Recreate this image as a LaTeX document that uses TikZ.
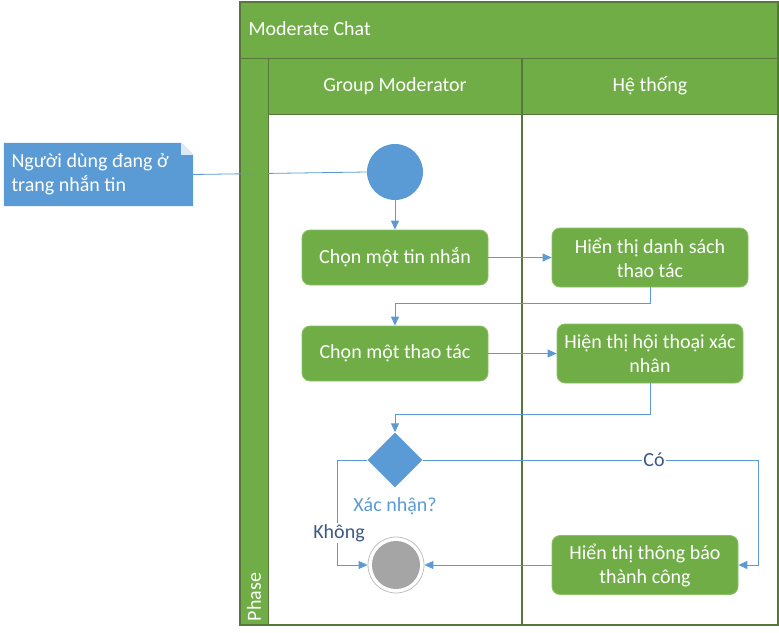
\documentclass[tikz,border=0pt]{standalone}
\usepackage{fontspec}
\setmainfont{Carlito}
\usetikzlibrary{arrows.meta,shapes.geometric}
\definecolor{lanegreen}{HTML}{70AD47}
\definecolor{boxedge}{HTML}{8CC168}
\definecolor{frameline}{HTML}{56763A}
\definecolor{flowblue}{HTML}{5B9BD5}
\definecolor{labelblue}{HTML}{3B5886}
\definecolor{endgray}{HTML}{A5A5A5}
\tikzset{
  txt/.style={font=\fontsize{20}{24}\selectfont},
  act/.style={txt, draw=boxedge, line width=0.8pt, fill=lanegreen, rounded corners=8pt, text=white, align=center, inner sep=2pt},
  flow/.style={draw=flowblue, line width=0.9pt, -{Triangle[length=9pt,width=8pt]}},
  guard/.style={txt, text=labelblue, fill=white, inner sep=1pt},
  hdr/.style={txt, text=white},
}
\begin{document}
\begin{tikzpicture}[x=1pt,y=-1pt]
\useasboundingbox (0,0) rectangle (779,632);
% swimlane frame
\fill[lanegreen] (240,2) rectangle (778,58);
\fill[lanegreen] (268,58) rectangle (778,114);
\fill[lanegreen] (240,58) rectangle (268,625);
\draw[frameline, line width=1.2pt] (240,2) rectangle (778,625);
\draw[frameline, line width=1pt] (240,58) -- (778,58);
\draw[frameline, line width=1pt] (268,114) -- (778,114);
\draw[frameline, line width=1pt] (268,58) -- (268,625);
\draw[frameline, line width=1.5pt] (522,58) -- (522,625);
\node[hdr, anchor=west] (title) at (245,29) {Moderate Chat};
\node[hdr] (lane1) at (395,86) {Group Moderator};
\node[hdr] (lane2) at (650,86) {Hệ thống};
\node[hdr, rotate=90] (phase) at (254,597) {Phase};

% note
\node[minimum width=189pt, minimum height=63pt, inner sep=0pt] (note) at (98.5,174.5) {};
\fill[flowblue] (note.north west) -- ([xshift=-12pt]note.north east) -- ([yshift=-12pt]note.north east) -- (note.south east) -- (note.south west) -- cycle;
\fill[white!80!flowblue] ([xshift=-12pt]note.north east) -- ([xshift=-12pt,yshift=-12pt]note.north east) -- ([yshift=-12pt]note.north east) -- cycle;
\node[txt, text=white, align=left, anchor=west] (notetext) at (8,174.5) {Người dùng đang ở\\trang nhắn tin};

% nodes
\node[circle, fill=flowblue, minimum size=56pt, inner sep=0pt] (start) at (395,172) {};
\node[act, minimum width=186pt, minimum height=55pt] (b1) at (395,257.5) {Chọn một tin nhắn};
\node[act, minimum width=196pt, minimum height=59pt] (b2) at (650,257.5) {Hiển thị danh sách\\thao tác};
\node[act, minimum width=186pt, minimum height=55pt] (b3) at (395,353.5) {Chọn một thao tác};
\node[act, minimum width=186pt, minimum height=59pt] (b4) at (650,353.5) {Hiện thị hội thoại xác\\nhân};
\node[diamond, fill=flowblue, minimum width=55pt, minimum height=55pt, inner sep=0pt] (dec) at (395,460) {};
\node[txt, text=flowblue] (declabel) at (395,506) {Xác nhận?};
\node[act, minimum width=186pt, minimum height=59pt] (b5) at (645,565) {Hiển thị thông báo\\thành công};
\node[circle, draw=endgray!70, line width=0.8pt, fill=white, minimum size=56pt, inner sep=0pt] (endc) at (396,565) {};
\fill[endgray] (endc.center) circle (24pt);

% connectors
\draw[draw=flowblue, line width=0.8pt] (note.east) -- (start.west);
\draw[flow] (start) -- (b1);
\draw[flow] (b1) -- (b2);
\draw[flow] (b2.south) -- ++(0,16) -| (b3.north);
\draw[flow] (b3) -- (b4);
\draw[flow] (b4.south) -- ++(0,31) -| (dec.north);
\coordinate (cr) at (758,460);
\coordinate (cl) at (337,460);
\draw[flow] (dec.east) -- node[guard, pos=0.69] (yes) {Có} (cr) |- (b5.east);
\draw[flow] (dec.west) -- (cl) |- (endc.west);
\node[guard] (no) at (339,533) {Không};
\draw[flow] (b5.west) -- (endc.east);
\end{tikzpicture}
\end{document}
